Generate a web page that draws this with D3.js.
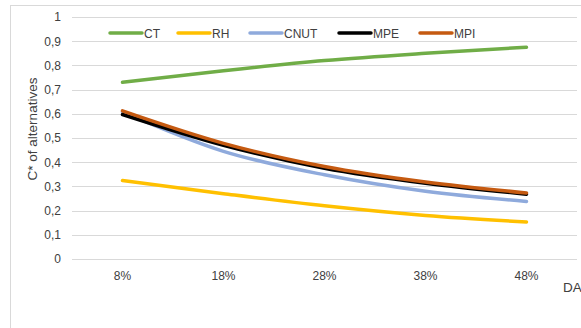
<!DOCTYPE html>
<html>
<head>
<meta charset="utf-8">
<script src="https://cdn.jsdelivr.net/npm/d3@7/dist/d3.min.js"></script>
<style>
  html, body { margin: 0; padding: 0; background: #fff; }
  svg { display: block; font-family: "Liberation Sans", Arial, sans-serif; }
</style>
</head>
<body>
<svg id="chart" width="581" height="328"></svg>
<script>
// Data
const categories = ["8%", "18%", "28%", "38%", "48%"];
const seriesNames = ["CT", "RH", "CNUT", "MPE", "MPI"];
const ctValues   = [0.730, 0.778, 0.820, 0.850, 0.875];
const rhValues   = [0.324, 0.270, 0.220, 0.180, 0.153];
const cnutValues = [0.608, 0.445, 0.348, 0.280, 0.238];
const mpeValues  = [0.597, 0.470, 0.375, 0.313, 0.268];
const mpiValues  = [0.612, 0.478, 0.382, 0.318, 0.273];
const yTicks = [0, 0.1, 0.2, 0.3, 0.4, 0.5, 0.6, 0.7, 0.8, 0.9, 1];

const colors = {
  CT: "#70AD47", RH: "#FFC000", CNUT: "#8FAADC", MPE: "#000000", MPI: "#C55A11"
};
const series = [
  { name: "CT", values: ctValues },
  { name: "RH", values: rhValues },
  { name: "CNUT", values: cnutValues },
  { name: "MPE", values: mpeValues },
  { name: "MPI", values: mpiValues }
];

const textColor = "#404040";
const svg = d3.select("#chart");
const plot = { left: 72, right: 577, top: 17, bottom: 259 };

// Chart area border
svg.append("rect")
  .attr("x", 10.5).attr("y", 5.5)
  .attr("width", 620).attr("height", 400)
  .attr("fill", "none").attr("stroke", "#d9d9d9").attr("stroke-width", 1);

const x = d3.scaleBand().domain(categories).range([plot.left, plot.right]);
const y = d3.scaleLinear().domain([0, 1]).range([plot.bottom, plot.top]);

// Horizontal gridlines
svg.append("g").selectAll("line").data(yTicks).join("line")
  .attr("x1", plot.left).attr("x2", plot.right)
  .attr("y1", d => Math.round(y(d)) + 0.5).attr("y2", d => Math.round(y(d)) + 0.5)
  .attr("stroke", "#d9d9d9").attr("stroke-width", 1);

// Y axis labels
const yAxis = d3.axisLeft(y).tickValues(yTicks).tickSize(0).tickPadding(0)
  .tickFormat(d => d3.format(".1~f")(d).replace(".", ","));
const yg = svg.append("g").attr("transform", `translate(${plot.left - 11},0)`).call(yAxis);
yg.select(".domain").remove();
yg.selectAll("text").attr("font-size", 12).attr("fill", textColor)
  .attr("font-family", "Liberation Sans, Arial, sans-serif");

// X axis labels
const xAxis = d3.axisBottom(x).tickSize(0).tickPadding(0);
const xg = svg.append("g").attr("transform", `translate(0,${plot.bottom + 12})`).call(xAxis);
xg.select(".domain").remove();
xg.selectAll("text").attr("font-size", 12).attr("fill", textColor)
  .attr("font-family", "Liberation Sans, Arial, sans-serif");

// Axis titles
svg.append("text")
  .attr("transform", `translate(37,129) rotate(-90)`)
  .attr("text-anchor", "middle").attr("font-size", 13.5).attr("fill", textColor)
  .text("C* of alternatives");
svg.append("text")
  .attr("x", 563).attr("y", 292)
  .attr("font-size", 13.5).attr("fill", textColor)
  .text("DA");

// Lines
const line = d3.line()
  .x((d, i) => x(categories[i]) + x.bandwidth() / 2)
  .y(d => y(d))
  .curve(d3.curveMonotoneX);

svg.append("g").selectAll("path").data(series).join("path")
  .attr("d", s => line(s.values))
  .attr("fill", "none")
  .attr("stroke", s => colors[s.name])
  .attr("stroke-width", 3.5)
  .attr("stroke-linecap", "round")
  .attr("stroke-linejoin", "round");

// Legend
const legendX = [110, 178, 250, 339, 420];
const lg = svg.append("g").selectAll("g").data(seriesNames).join("g")
  .attr("transform", (d, i) => `translate(${legendX[i]},33)`);
lg.append("line")
  .attr("x1", 0).attr("x2", 32).attr("y1", 0).attr("y2", 0)
  .attr("stroke", d => colors[d]).attr("stroke-width", 3.5).attr("stroke-linecap", "round");
lg.append("text")
  .attr("x", 34).attr("y", 4.5)
  .attr("font-size", 12).attr("fill", textColor)
  .text(d => d);
</script>
</body>
</html>
